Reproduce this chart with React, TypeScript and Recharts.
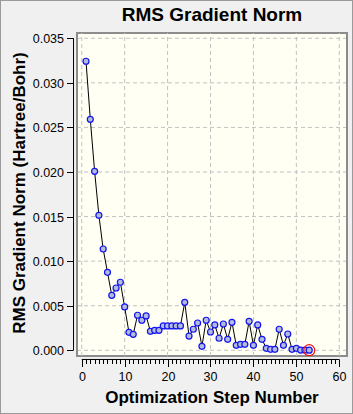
import React from 'react';
import {
  LineChart,
  Line,
  XAxis,
  YAxis,
  CartesianGrid,
  ReferenceLine,
  ReferenceArea,
  Customized,
} from 'recharts';

// ---- data ----
const steps = [
  1, 2, 3, 4, 5, 6, 7, 8, 9, 10, 11, 12, 13, 14, 15, 16, 17, 18, 19, 20, 21, 22, 23, 24, 25, 26, 27,
  28, 29, 30, 31, 32, 33, 34, 35, 36, 37, 38, 39, 40, 41, 42, 43, 44, 45, 46, 47, 48, 49, 50, 51, 52, 53,
];
const rmsGradient = [
  0.03242, 0.02591, 0.02008, 0.01514, 0.01136, 0.00875, 0.00617, 0.00699, 0.00763, 0.00486,
  0.00202, 0.00179, 0.00393, 0.00337, 0.00385, 0.00213, 0.00224, 0.00224, 0.00273, 0.00273,
  0.00273, 0.00273, 0.00273, 0.00538, 0.0016, 0.00236, 0.00306, 0.00045, 0.00337, 0.00205,
  0.00284, 0.00135, 0.00295, 0.00123, 0.00314, 0.00056, 0.00067, 0.00067, 0.00325, 0.00056,
  0.00284, 0.00123, 0.00022, 0.00011, 0.00011, 0.00236, 0.00056, 0.00183, 0.00011, 0.00022,
  0.00003, 0.00002, 0.00001,
];
const xTicks = [
  0, 1, 2, 3, 4, 5, 6, 7, 8, 9, 10, 11, 12, 13, 14, 15, 16, 17, 18, 19, 20, 21, 22, 23, 24, 25, 26, 27, 28,
  29, 30, 31, 32, 33, 34, 35, 36, 37, 38, 39, 40, 41, 42, 43, 44, 45, 46, 47, 48, 49, 50, 51, 52, 53, 54, 55,
  56, 57, 58, 59, 60,
];
const xMajorTicks = [0, 10, 20, 30, 40, 50, 60];
const yTicks = [0, 0.005, 0.01, 0.015, 0.02, 0.025, 0.03, 0.035];
const yTickLabels = ['0.000', '0.005', '0.010', '0.015', '0.020', '0.025', '0.030', '0.035'];

const chartTitle = 'RMS Gradient Norm';
const xTitle = 'Optimization Step Number';
const yTitle = 'RMS Gradient Norm (Hartree/Bohr)';

const data = steps.map((s, i) => ({ step: s, rms: rmsGradient[i] }));

// ---- layout / style ----
const W = 353;
const H = 414;
const X_DOMAIN: [number, number] = [-1.1, 61.8];
const Y_DOMAIN: [number, number] = [-0.00064, 0.03559];
const X_AXIS_LINE_Y = -0.00103;
const Y_AXIS_LINE_X = -1.91;
const FONT = '"Liberation Sans", Arial, sans-serif';

const XTick = (props: any) => {
  const { x, y, payload } = props;
  const v = payload.value as number;
  const major = v % 10 === 0;
  const px = Math.round(x) + 0.5;
  return (
    <g>
      <line x1={px} x2={px} y1={y + 3.5} y2={y + (major ? 11 : 8)} stroke="#000" strokeWidth={1} />
      {major && (
        <text
          x={px}
          y={y + 21}
          textAnchor="middle"
          dominantBaseline="central"
          fontFamily={FONT}
          fontSize={12.5}
          fill="#000"
        >
          {v}
        </text>
      )}
    </g>
  );
};

const YTick = (props: any) => {
  const { x, y, payload } = props;
  const idx = yTicks.indexOf(payload.value);
  const py = Math.round(y) + 0.5;
  return (
    <g>
      <line x1={x - 10} x2={x - 3.5} y1={py} y2={py} stroke="#000" strokeWidth={1} />
      <text
        x={x - 13}
        y={py}
        textAnchor="end"
        dominantBaseline="central"
        fontFamily={FONT}
        fontSize={12.5}
        fill="#000"
      >
        {idx >= 0 ? yTickLabels[idx] : payload.value}
      </text>
    </g>
  );
};

const lastIndex = rmsGradient.length - 1;
const renderDot = (props: any) => {
  const { cx, cy, index } = props;
  return (
    <g key={`dot-${index}`}>
      <circle cx={cx} cy={cy} r={3} fill="#b3bbda" stroke="#1414ee" strokeWidth={1.2} />
      {index === lastIndex && (
        <circle cx={cx} cy={cy} r={5.5} fill="none" stroke="#ee1111" strokeWidth={1.2} />
      )}
    </g>
  );
};

const Titles = () => (
  <g>
    <text
      x={212}
      y={14}
      textAnchor="middle"
      dominantBaseline="central"
      fontFamily={FONT}
      fontWeight="bold"
      fontSize={19}
      fill="#000"
    >
      {chartTitle}
    </text>
    <text
      x={212}
      y={397}
      textAnchor="middle"
      dominantBaseline="central"
      fontFamily={FONT}
      fontWeight="bold"
      fontSize={17}
      fill="#000"
    >
      {xTitle}
    </text>
    <text
      x={19}
      y={193}
      textAnchor="middle"
      dominantBaseline="central"
      fontFamily={FONT}
      fontWeight="bold"
      fontSize={17}
      fill="#000"
      transform="rotate(-90 19 193)"
    >
      {yTitle}
    </text>
  </g>
);

export default function App() {
  return (
    <div style={{ position: 'relative', width: W, height: H, background: '#f0f0f0' }}>
      <style>{'body{margin:0}'}</style>
      <LineChart width={W} height={H} data={data} margin={{ top: 33, right: 6, bottom: 0, left: 0 }}>
        <CartesianGrid
          fill="#fffff4"
          vertical={false}
          stroke="#c2c2c2"
          strokeDasharray="4 3"
        />
        {xMajorTicks.map((v) => (
          <ReferenceLine key={`vx-${v}`} x={v} stroke="#c2c2c2" strokeDasharray="4 3" />
        ))}
        <XAxis
          type="number"
          dataKey="step"
          domain={X_DOMAIN}
          ticks={xTicks}
          interval={0}
          allowDataOverflow
          height={58}
          tickSize={0}
          tickMargin={0}
          axisLine={false}
          tickLine={false}
          tick={<XTick />}
        />
        <YAxis
          type="number"
          domain={Y_DOMAIN}
          ticks={yTicks}
          interval={0}
          allowDataOverflow
          width={77}
          tickSize={0}
          tickMargin={0}
          axisLine={false}
          tickLine={false}
          tick={<YTick />}
        />
        <ReferenceArea
          x1={X_DOMAIN[0]}
          x2={X_DOMAIN[1]}
          y1={Y_DOMAIN[0]}
          y2={Y_DOMAIN[1]}
          fill="none"
          stroke="#8c8c8c"
          strokeWidth={2}
          ifOverflow="visible"
        />
        <ReferenceLine
          segment={[
            { x: 0, y: X_AXIS_LINE_Y },
            { x: 60, y: X_AXIS_LINE_Y },
          ]}
          stroke="#000"
          strokeWidth={1}
          ifOverflow="visible"
        />
        <ReferenceLine
          segment={[
            { x: Y_AXIS_LINE_X, y: 0 },
            { x: Y_AXIS_LINE_X, y: 0.035 },
          ]}
          stroke="#000"
          strokeWidth={1}
          ifOverflow="visible"
        />
        <Line
          type="linear"
          dataKey="rms"
          stroke="#000"
          strokeWidth={1}
          dot={renderDot}
          activeDot={false}
          isAnimationActive={false}
        />
        <Customized component={Titles} />
      </LineChart>
      <div
        style={{
          position: 'absolute',
          inset: 0,
          border: '1px solid #9a9a9a',
          pointerEvents: 'none',
        }}
      />
    </div>
  );
}
